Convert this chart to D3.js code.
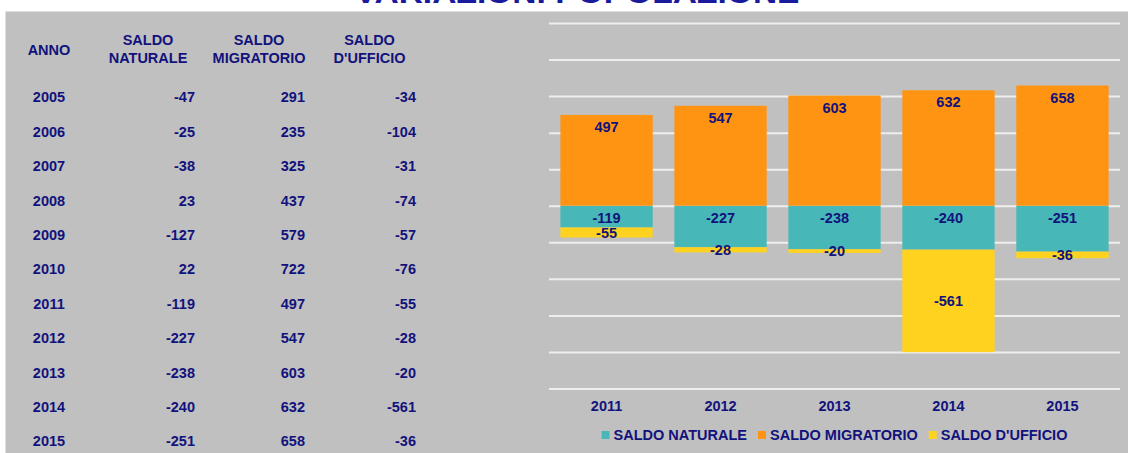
<!DOCTYPE html>
<html>
<head>
<meta charset="utf-8">
<script src="https://cdnjs.cloudflare.com/ajax/libs/d3/7.8.5/d3.min.js"></script>
<style>
  body { margin: 0; background: #ffffff; }
  text { font-family: "Liberation Sans", Arial, sans-serif; font-weight: bold; }
  .grid line { stroke: #eeeeee; stroke-width: 2; }
  .grid path { display: none; }
</style>
</head>
<body>
<div id="chart"></div>
<script>

var years      = ["2005", "2006", "2007", "2008", "2009", "2010", "2011", "2012", "2013", "2014", "2015"];
var naturale   = [-47, -25, -38, 23, -127, 22, -119, -227, -238, -240, -251];
var migratorio = [291, 235, 325, 437, 579, 722, 497, 547, 603, 632, 658];
var ufficio    = [-34, -104, -31, -74, -57, -76, -55, -28, -20, -561, -36];

var headers = [["ANNO"], ["SALDO", "NATURALE"], ["SALDO", "MIGRATORIO"], ["SALDO", "D'UFFICIO"]];
var seriesNames = ["SALDO NATURALE", "SALDO MIGRATORIO", "SALDO D'UFFICIO"];
var yTicks = [-1000, -800, -600, -400, -200, 0, 200, 400, 600, 800, 1000];

var W = 1128, H = 453;
var textColor = "#12127c";
var colors = ["#47b8b7", "#ff9412", "#ffd21f"];
var fs = "14.5px";

var svg = d3.select("#chart").append("svg")
    .attr("width", W)
    .attr("height", H);

// grey panel
svg.append("rect")
    .attr("x", 5.5)
    .attr("y", 11.5)
    .attr("width", W - 5.5)
    .attr("height", H - 11.5)
    .style("fill", "#c0c0c0");

// title (cut off at the top, as in the original)
svg.append("text")
    .attr("x", 577)
    .attr("y", 3)
    .attr("text-anchor", "middle")
    .attr("textLength", 445)
    .attr("lengthAdjust", "spacingAndGlyphs")
    .style("font-size", "30px")
    .style("fill", "#1a1a9c")
    .text("VARIAZIONI POPOLAZIONE");

// ---------- table ----------
var colX = [49, 195, 305, 416];
var colAnchor = ["middle", "end", "end", "end"];
var headX = [49, 148, 259, 369.5];

headers.forEach(function(h, i) {
  var t = svg.append("text")
      .attr("x", headX[i])
      .attr("text-anchor", "middle")
      .style("font-size", fs)
      .style("fill", textColor);
  if (h.length == 1) {
    t.attr("y", 55).text(h[0]);
  } else {
    t.append("tspan").attr("x", headX[i]).attr("y", 44.5).text(h[0]);
    t.append("tspan").attr("x", headX[i]).attr("y", 63).text(h[1]);
  }
});

var rowY = d3.scalePoint().domain(years).range([102.3, 446.3]);
var cols = [years, naturale, migratorio, ufficio];

cols.forEach(function(col, c) {
  svg.append("g").selectAll("text")
      .data(col)
    .enter().append("text")
      .attr("x", colX[c])
      .attr("y", function(d, i) { return rowY(years[i]); })
      .attr("text-anchor", colAnchor[c])
      .style("font-size", fs)
      .style("fill", textColor)
      .text(function(d) { return d; });
});

// ---------- stacked chart (last 5 years) ----------
var chartYears = years.slice(6);
var data = chartYears.map(function(y, i) {
  return { year: y, nat: naturale[i + 6], mig: migratorio[i + 6], uff: ufficio[i + 6] };
});
var keys = ["nat", "mig", "uff"];

var x = d3.scaleBand()
    .domain(chartYears)
    .range([549, 1120])
    .paddingInner(0.19)
    .paddingOuter(0.1);

var y = d3.scaleLinear()
    .domain([-1000, 1000])
    .range([388.5, 23]);

// gridlines
svg.append("g")
    .attr("class", "grid")
    .attr("transform", "translate(549,0)")
    .call(d3.axisLeft(y)
        .tickValues(yTicks)
        .tickSize(-(1120 - 549))
        .tickFormat(""));

var stack = d3.stack().keys(keys).offset(d3.stackOffsetDiverging);
var layers = stack(data);

var layer = svg.selectAll(".layer")
    .data(layers)
  .enter().append("g")
    .attr("class", "layer")
    .style("fill", function(d, i) { return colors[i]; });

layer.selectAll("rect")
    .data(function(d) { return d; })
  .enter().append("rect")
    .attr("x", function(d) { return x(d.data.year); })
    .attr("width", x.bandwidth())
    .attr("y", function(d) { return y(d[1]); })
    .attr("height", function(d) { return y(d[0]) - y(d[1]); });

// value labels
layers.forEach(function(l, k) {
  svg.append("g").selectAll("text")
      .data(l)
    .enter().append("text")
      .attr("x", function(d) { return x(d.data.year) + x.bandwidth() / 2; })
      .attr("y", function(d) {
        if (k == 2) return (y(d[0]) + y(d[1])) / 2 + 5;
        return y(d[1]) + 17;
      })
      .attr("text-anchor", "middle")
      .style("font-size", fs)
      .style("fill", textColor)
      .text(function(d) { return d.data[keys[k]]; });
});

// x axis labels
var xAxis = svg.append("g")
    .attr("transform", "translate(0,388.5)")
    .call(d3.axisBottom(x).tickSize(0).tickPadding(12));
xAxis.select(".domain").remove();
xAxis.selectAll("text")
    .style("font-size", fs)
    .style("font-family", "'Liberation Sans', Arial, sans-serif")
    .style("font-weight", "bold")
    .style("fill", textColor);

// legend, centred under the plot
var legend = svg.append("g");
var lx = 0;
seriesNames.forEach(function(name, i) {
  var g = legend.append("g").attr("transform", "translate(" + lx + ",0)");
  g.append("rect")
      .attr("x", 0)
      .attr("y", 431)
      .attr("width", 8)
      .attr("height", 8)
      .style("fill", colors[i]);
  var t = g.append("text")
      .attr("x", 12)
      .attr("y", 440)
      .style("font-size", fs)
      .style("fill", textColor)
      .text(name);
  lx += 12 + t.node().getComputedTextLength() + 11;
});
var legendW = lx - 11;
legend.attr("transform", "translate(" + ((549 + 1120) / 2 - legendW / 2) + ",0)");

</script>
</body>
</html>
